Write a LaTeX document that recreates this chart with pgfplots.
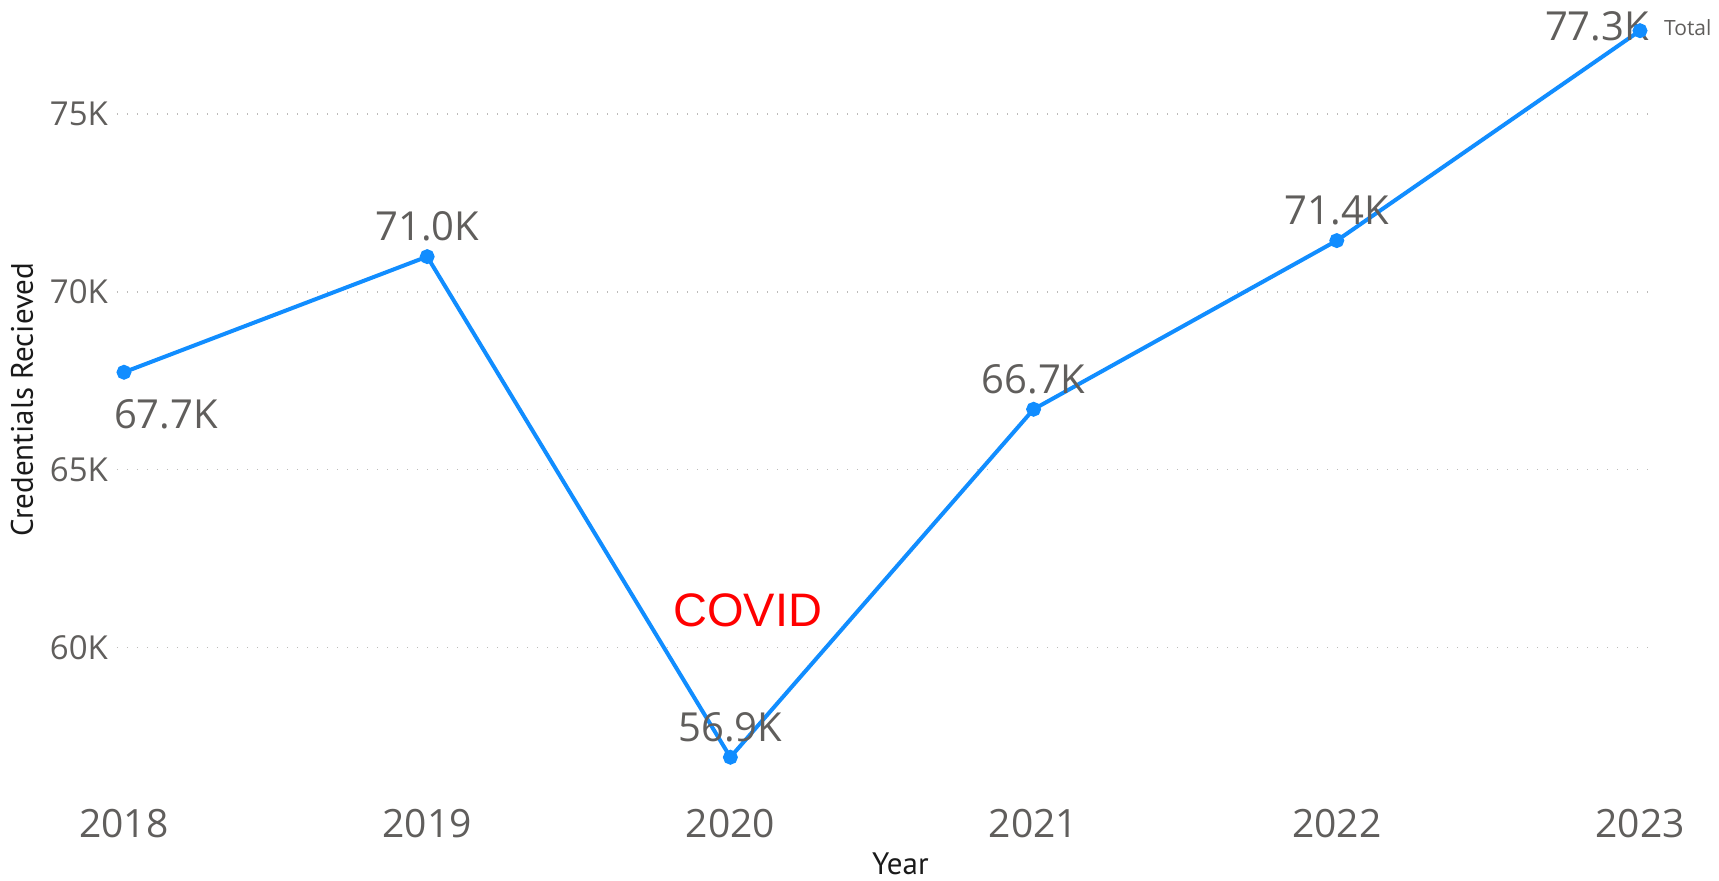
\documentclass[border=0pt]{standalone}
\usepackage{pgfplots}
\pgfplotsset{compat=1.18}
\usepackage{fontspec}
\setmainfont{Open Sans}
\newfontfamily\titlefont{PT Sans}
\newfontfamily\arialfont{Liberation Sans}
\definecolor{pbblue}{HTML}{118DFF}
\definecolor{pbgray}{HTML}{605E5C}
\definecolor{pbdark}{HTML}{1A1A1A}
\definecolor{gridc}{HTML}{BDBBB9}
\begin{document}
\begin{tikzpicture}
\begin{axis}[
  at={(58.5pt,45.5pt)}, anchor=south west,
  scale only axis, width=766.5pt, height=382.5pt,
  xmin=2017.977, xmax=2023.033,
  ymin=56.0, ymax=77.5,
  axis line style={draw=none},
  tick style={draw=none},
  xtick={2018,2019,2020,2021,2022,2023},
  xticklabels={2018,2019,2020,2021,2022,2023},
  ytick={60,65,70,75},
  yticklabels={60K,65K,70K,75K},
  ymajorgrids,
  grid style={gridc, line width=0.7pt, dash pattern=on 0.7pt off 4.3pt},
  xticklabel style={font=\fontsize{19.5}{22}\selectfont, text=pbgray, yshift=-6pt},
  yticklabel style={font=\fontsize{16.5}{18}\selectfont, text=pbgray, xshift=-1pt},
  xlabel={Year},
  ylabel={Credentials Recieved},
  xlabel style={font=\titlefont\fontsize{15.5}{18}\selectfont, text=pbdark, at={(rel axis cs:0.511,-0.097)}, anchor=center},
  ylabel style={font=\titlefont\fontsize{15.5}{18}\selectfont, text=pbdark, at={(rel axis cs:-0.062,0.51)}, anchor=center, rotate=0},
  clip=false,
]
\addplot[pbblue, line width=2pt, mark=*, mark size=2.7pt, mark options={fill=pbblue, draw=pbblue}]
  coordinates {(2018,67.74) (2019,70.99) (2020,56.92) (2021,66.70) (2022,71.44) (2023,77.34)};
\begin{scope}[every node/.style={font=\fontsize{20}{24}\selectfont, text=pbgray, inner sep=0pt}]
\node at (axis cs:2018,67.74) [xshift=21pt, yshift=-21pt] {67.7K};
\node at (axis cs:2019,70.99) [yshift=15pt] {71.0K};
\node at (axis cs:2020,56.92) [yshift=15pt] {56.9K};
\node at (axis cs:2021,66.70) [yshift=15pt] {66.7K};
\node at (axis cs:2022,71.44) [yshift=15pt] {71.4K};
\node at (axis cs:2023,77.34) [xshift=-21.5pt, yshift=2.3pt] {77.3K};
\end{scope}
\node[font=\arialfont\fontsize{23.5}{27}\selectfont, text=red, inner sep=0pt] at (axis cs:2020.057,61.05) {COVID};
\node[font=\fontsize{10.5}{12}\selectfont, text=pbgray, anchor=west, inner sep=0pt] at (rel axis cs:1.009,0.996) {Total};
\end{axis}
\pgfresetboundingbox
\path[use as bounding box] (0,0) rectangle (859.5pt,440.5pt);
\end{tikzpicture}
\end{document}
